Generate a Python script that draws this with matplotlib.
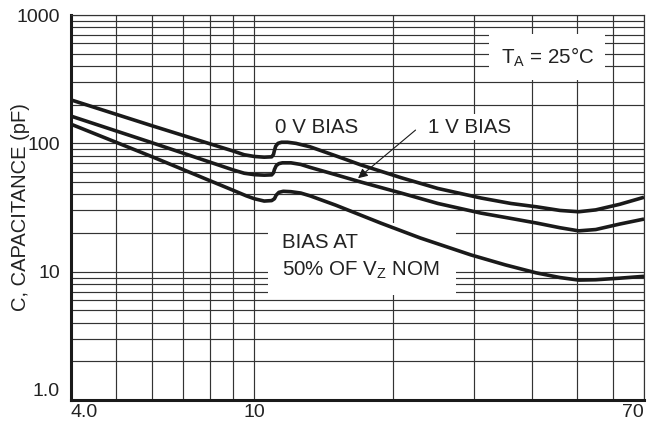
# Capacitancia de diodo zener contra voltaje nominal
# tres curvas de polarizacion en escala log-log

import matplotlib.pyplot as plt
from matplotlib.ticker import FixedLocator, NullFormatter

# fuente parecida a Helvetica
plt.rcParams["font.family"] = ["Liberation Sans", "DejaVu Sans"]
plt.rcParams["mathtext.fontset"] = "custom"
plt.rcParams["mathtext.rm"] = "Liberation Sans"

# curva 0 V BIAS
Voltaje_0V = [
    4.0, 6.0, 9.0, 9.5, 10.0, 10.5, 10.9, 11.0, 11.05, 11.12, 11.25,
    11.45, 11.8, 12.3, 13.2, 15.0, 17.0, 20.8, 25.0, 31.0, 36.0, 41.0,
    46.0, 50.5, 55.0, 62.0, 70.0
]
Capacitancia_0V = [
    218, 137, 87, 81.5, 79, 78, 78.5, 82, 88, 95, 100,
    102, 102, 100, 94, 80, 68, 54, 44.5, 37.5, 34, 32,
    30, 29.3, 30.3, 33.5, 38
]

# curva 1 V BIAS
Voltaje_1V = [
    4.0, 6.0, 9.0, 9.5, 10.0, 10.5, 10.9, 11.0, 11.05, 11.15, 11.3,
    11.5, 12.0, 12.6, 13.2, 15.0, 17.0, 20.8, 25.0, 31.0, 36.0, 41.0,
    46.0, 50.5, 55.0, 62.0, 70.0
]
Capacitancia_1V = [
    163, 101, 62, 58.5, 57, 56.5, 56.8, 59, 62.5, 67, 69.5,
    70.5, 70.5, 68.5, 65, 57, 50, 41, 34, 28.6, 26, 23.9,
    22, 20.8, 21.3, 23.5, 25.7
]

# curva con polarizacion al 50% de Vz nominal
Voltaje_50 = [
    4.0, 6.0, 9.0, 9.6, 10.0, 10.5, 10.9, 11.05, 11.15, 11.3, 11.55,
    12.0, 12.6, 13.2, 15.0, 18.8, 22.9, 29.5, 35.0, 40.8, 46.0, 50.5,
    55.0, 62.0, 70.0
]
Capacitancia_50 = [
    141, 78.6, 43, 39, 37, 35.5, 35.8, 37, 39.5, 41.5, 42.3,
    42, 41, 39, 33, 23.9, 18.3, 13.5, 11.3, 9.8, 9.0, 8.6,
    8.65, 8.9, 9.2
]

# marcas de los ejes
Marcas_x = [4, 10, 70]
Etiquetas_x = ["4.0", "10", "70"]
Menores_x = [5, 6, 7, 8, 9, 20, 30, 40, 50, 60]

Marcas_y = [1, 10, 100, 1000]
Etiquetas_y = ["1.0", "10", "100", "1000"]
Menores_y = [m * d for d in (1, 10, 100) for m in range(2, 10)]

Color_texto = "#222222"
Color_rejilla = "#333333"
Tamano = 14.8

# crear figura
Figura = plt.figure(
    figsize=(6.47, 4.25),
    dpi=100
)

Ejes = Figura.add_axes(
    [0.1097, 0.0588, 0.8857, 0.9059]
)

Ejes.set_xscale("log")
Ejes.set_yscale("log")

Ejes.set_xlim(4, 70)
Ejes.set_ylim(1, 1000)

# ticks y rejilla
Ejes.xaxis.set_major_locator(FixedLocator(Marcas_x))
Ejes.xaxis.set_minor_locator(FixedLocator(Menores_x))
Ejes.set_xticklabels(Etiquetas_x)
Ejes.xaxis.set_minor_formatter(NullFormatter())

Ejes.yaxis.set_major_locator(FixedLocator(Marcas_y))
Ejes.yaxis.set_minor_locator(FixedLocator(Menores_y))
Ejes.set_yticklabels(Etiquetas_y)
Ejes.yaxis.set_minor_formatter(NullFormatter())

Ejes.tick_params(
    which="both",
    length=0,
    labelsize=14,
    labelcolor=Color_texto
)
Ejes.tick_params(axis="x", pad=3)
Ejes.tick_params(axis="y", pad=8)

# alinear etiquetas de los extremos
Ejes.get_xticklabels()[0].set_ha("left")
Ejes.get_xticklabels()[-1].set_ha("right")
Ejes.get_yticklabels()[0].set_va("bottom")

Ejes.grid(
    True,
    which="both",
    color=Color_rejilla,
    lw=0.85,
    zorder=0
)
Ejes.set_axisbelow(True)

# bordes
for Lado in ["top", "right"]:
    Ejes.spines[Lado].set_linewidth(0.85)
    Ejes.spines[Lado].set_color(Color_rejilla)
for Lado in ["left", "bottom"]:
    Ejes.spines[Lado].set_linewidth(2.2)
    Ejes.spines[Lado].set_color("#1a1a1a")

# graficar curvas
for Voltaje, Capacitancia in [
    (Voltaje_0V, Capacitancia_0V),
    (Voltaje_1V, Capacitancia_1V),
    (Voltaje_50, Capacitancia_50),
]:
    Ejes.plot(
        Voltaje,
        Capacitancia,
        color="#1a1a1a",
        lw=2.6,
        solid_joinstyle="round",
        solid_capstyle="butt",
        zorder=5
    )

# etiqueta del eje y
Ejes.set_ylabel(
    "C, CAPACITANCE (pF)",
    fontsize=14.5,
    color=Color_texto
)
Ejes.yaxis.set_label_coords(-0.072, 0.5)

# textos con fondo blanco
Caja = dict(boxstyle="square,pad=0.15", fc="white", ec="none")

Ejes.text(
    0.831, 0.891,
    "T$_\\mathrm{A}$ = 25°C",
    transform=Ejes.transAxes,
    ha="center", va="center",
    fontsize=Tamano, color=Color_texto,
    bbox=dict(boxstyle="square,pad=0.55", fc="white", ec="none"),
    zorder=3
)

Ejes.text(
    0.428, 0.709,
    "0 V BIAS",
    transform=Ejes.transAxes,
    ha="center", va="center",
    fontsize=Tamano, color=Color_texto,
    bbox=Caja, zorder=3
)

Ejes.text(
    0.696, 0.709,
    "1 V BIAS",
    transform=Ejes.transAxes,
    ha="center", va="center",
    fontsize=Tamano, color=Color_texto,
    bbox=Caja, zorder=3
)

# flecha hacia la curva de 1 V
Ejes.annotate(
    "",
    xy=(16.6, 51.8),
    xytext=(22.6, 131),
    arrowprops=dict(
        arrowstyle="-|>",
        color="#1a1a1a",
        lw=0.8,
        mutation_scale=14
    ),
    zorder=6
)

# caja de la curva inferior
Ejes.add_patch(
    plt.Rectangle(
        (0.344, 0.273),
        0.328, 0.187,
        transform=Ejes.transAxes,
        fc="white", ec="none",
        zorder=2
    )
)

Ejes.text(
    0.368, 0.410,
    "BIAS AT",
    transform=Ejes.transAxes,
    ha="left", va="center",
    fontsize=Tamano, color=Color_texto,
    zorder=3
)

Ejes.text(
    0.368, 0.338,
    "50% OF V$_\\mathrm{Z}$ NOM",
    transform=Ejes.transAxes,
    ha="left", va="center",
    fontsize=Tamano, color=Color_texto,
    zorder=3
)

# guardar
Figura.savefig("out.png", dpi=100)
